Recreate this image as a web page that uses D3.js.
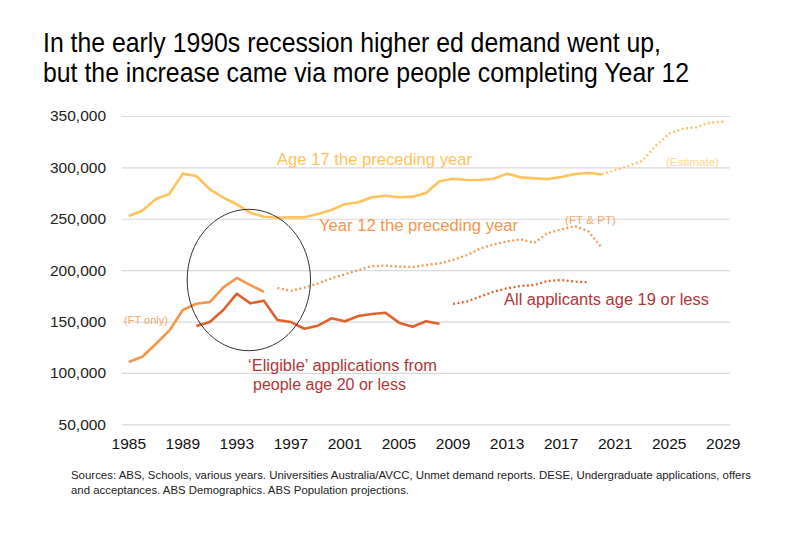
<!DOCTYPE html>
<html><head><meta charset="utf-8">
<script src="https://cdn.jsdelivr.net/npm/d3@7"></script>
<style>body{margin:0;background:#fff}svg{display:block}text{font-family:"Liberation Sans",Arial,sans-serif}</style>
</head><body><svg id="c" width="809" height="560"></svg>
<script>
const years = [1985,1986,1987,1988,1989,1990,1991,1992,1993,1994,1995,1996,1997,1998,1999,2000,2001,2002,2003,2004,2005,2006,2007,2008,2009,2010,2011,2012,2013,2014,2015,2016,2017,2018,2019,2020,2021,2022,2023,2024,2025,2026,2027,2028,2029];
const xTickYears = [1985,1989,1993,1997,2001,2005,2009,2013,2017,2021,2025,2029];
const yTicks = [50000,100000,150000,200000,250000,300000,350000];

const age17Years = [1985,1986,1987,1988,1989,1990,1991,1992,1993,1994,1995,1996,1997,1998,1999,2000,2001,2002,2003,2004,2005,2006,2007,2008,2009,2010,2011,2012,2013,2014,2015,2016,2017,2018,2019,2020];
const age17 = [252700,257800,269200,274100,293900,291600,278700,270500,264100,255900,252000,251000,251400,251400,254600,258500,264200,266000,270900,272400,270900,271500,275100,286500,289000,287700,287700,289000,293900,290300,289400,288600,290600,293600,294500,293300];
const age17EstYears = [2020,2021,2022,2023,2024,2025,2026,2027,2028,2029];
const age17Est = [293300,297400,301600,306200,321000,333000,337500,339000,343500,344400];

const year12Years = [1985,1986,1987,1988,1989,1990,1991,1992,1993,1994,1995];
const year12 = [110600,115800,128100,141100,161200,167300,169000,183300,192400,185500,179000];
const year12PtYears = [1996,1997,1998,1999,2000,2001,2002,2003,2004,2005,2006,2007,2008,2009,2010,2011,2012,2013,2014,2015,2016,2017,2018,2019,2020];
const year12Pt = [182500,180000,183000,187000,192000,196000,200000,204000,204500,203500,203000,205000,206500,210000,214500,221000,225000,228000,230000,226500,236000,239500,243000,238000,222000];

const eligibleYears = [1990,1991,1992,1993,1994,1995,1996,1997,1998,1999,2000,2001,2002,2003,2004,2005,2006,2007,2008];
const eligible = [145700,149500,161200,177100,167700,170300,151500,149500,143000,146000,153100,150200,155400,157300,158600,148900,145000,150200,147900];

const allAppYears = [2009,2010,2011,2012,2013,2014,2015,2016,2017,2018,2019];
const allApp = [167100,169300,174200,179000,182300,184600,185500,189400,190400,188800,188200];

const svg = d3.select("#c");
const xb = d3.scaleBand().domain(years).range([122,730]);
const x = v => xb(v) + xb.bandwidth()/2;
const y = d3.scaleLinear().domain([50000,350000]).range([424.3,116]);

// title
const title = svg.append("g").attr("font-family","'Liberation Sans Narrow','Arial Narrow','Liberation Sans',Arial,sans-serif").attr("font-size",28).attr("fill","#000");
title.append("text").attr("x",43).attr("y",52).attr("textLength",618).attr("lengthAdjust","spacingAndGlyphs").text("In the early 1990s recession higher ed demand went up,");
title.append("text").attr("x",43).attr("y",82).attr("textLength",646).attr("lengthAdjust","spacingAndGlyphs").text("but the increase came via more people completing Year 12");

// y grid + labels
const yAxis = d3.axisLeft(y).tickValues(yTicks).tickSize(-(730-122)).tickFormat(d3.format(","));
const gy = svg.append("g").attr("transform","translate(122,0)").call(yAxis);
gy.select(".domain").remove();
gy.selectAll(".tick line").attr("stroke","#d9d9d9").attr("stroke-width",1.2);
gy.selectAll(".tick text").attr("x",-16).attr("fill","#222").attr("font-size",15.5).attr("font-family","'Liberation Sans',Arial,sans-serif");

// x labels
const xAxis = d3.axisBottom(xb).tickValues(xTickYears).tickSize(0).tickPadding(0);
const gx = svg.append("g").attr("transform","translate(0,424.3)").call(xAxis);
gx.select(".domain").remove();
gx.selectAll(".tick text").attr("dy",0).attr("y",25).attr("fill","#111").attr("font-size",15.5).attr("font-family","'Liberation Sans',Arial,sans-serif");

const line = d3.line().x(d=>x(d[0])).y(d=>y(d[1]));
const zip = (a,b)=>a.map((v,i)=>[v,b[i]]);
function draw(data, color, dashed){
  svg.append("path").datum(data).attr("d",line).attr("fill","none").attr("stroke",color)
    .attr("stroke-width",dashed?2.3:2.6).attr("stroke-linejoin","round")
    .attr("stroke-dasharray", dashed?"1.9 2.6":null);
}
draw(zip(age17Years,age17),"#ffc25c",false);
draw(zip(age17EstYears,age17Est),"#ffc25c",true);
draw(zip(year12Years,year12),"#f7954a",false);
draw(zip(year12PtYears,year12Pt),"#f7954a",true);
draw(zip(eligibleYears,eligible),"#e0612c",false);
draw(zip(allAppYears,allApp),"#e0612c",true);

// ellipse annotation
svg.append("ellipse").attr("cx",x(1993)+12).attr("cy",y(190400)).attr("rx",61.7).attr("ry",70.7)
  .attr("fill","none").attr("stroke","#333").attr("stroke-width",1);

// labels
function lab(t,xx,yy,size,color,len){
  const e = svg.append("text").attr("x",xx).attr("y",yy).attr("font-size",size).attr("fill",color).text(t);
  if(len) e.attr("textLength",len).attr("lengthAdjust","spacingAndGlyphs");
}
lab("Age 17 the preceding year",277,164.5,16,"#ffc25c",195);
lab("Year 12 the preceding year",319,231,16,"#f7954a",199);
lab("(FT only)",124,324,11,"#f6a86c",44);
lab("(FT & PT)",565,224,11.5,"#f6a86c",51);
lab("(Estimate)",666,166,11,"#ffd591",53);
lab("‘Eligible’ applications from",248,371,16,"#b2363a",189);
lab("people age 20 or less",253,390,16,"#b2363a",null);
lab("All applicants age 19 or less",504,305,16,"#b2363a",205);

// sources
const src = svg.append("g").attr("font-family","'Liberation Sans Narrow','Arial Narrow','Liberation Sans',Arial,sans-serif").attr("font-size",11).attr("fill","#222");
src.append("text").attr("x",71).attr("y",479).attr("textLength",680).attr("lengthAdjust","spacingAndGlyphs").text("Sources: ABS, Schools, various years. Universities Australia/AVCC, Unmet demand reports. DESE, Undergraduate applications, offers");
src.append("text").attr("x",71).attr("y",494).attr("textLength",338).attr("lengthAdjust","spacingAndGlyphs").text("and acceptances. ABS Demographics. ABS Population projections.");
</script></body></html>
